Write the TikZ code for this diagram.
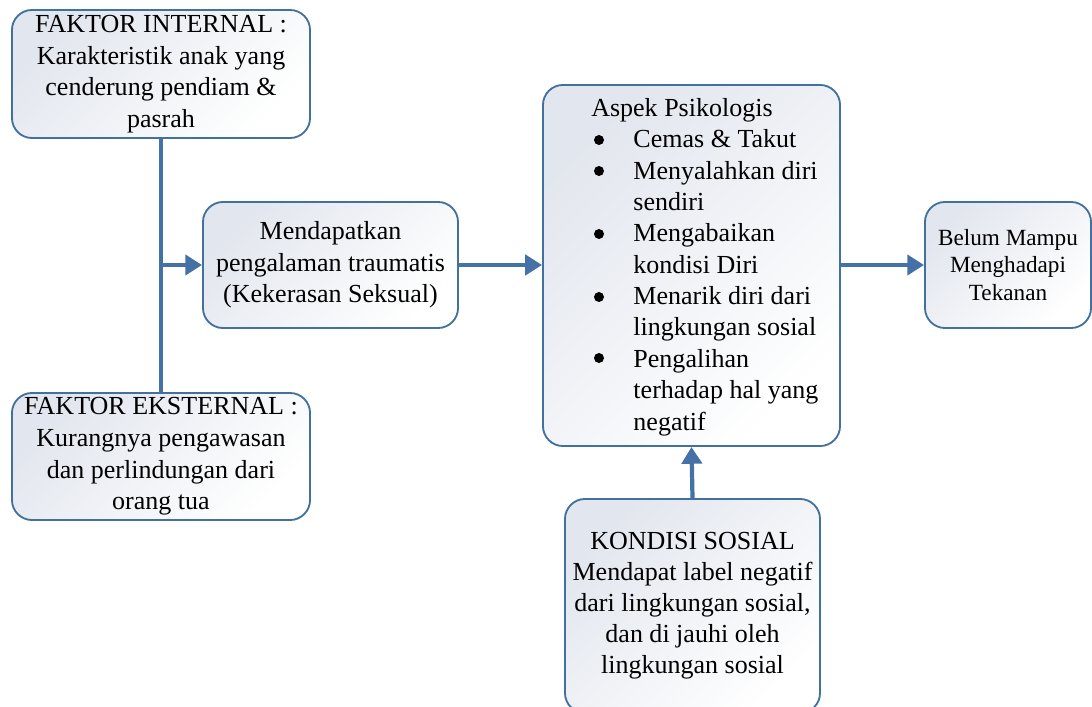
\documentclass[tikz,border=0pt]{standalone}
\usepackage{fontspec}
\setmainfont{Liberation Serif}
\usetikzlibrary{arrows.meta,positioning}

\definecolor{edgeblue}{RGB}{65,113,156}
\definecolor{arrowblue}{RGB}{68,114,166}
\definecolor{boxshade}{RGB}{226,230,238}

\tikzset{
  box/.style={draw=edgeblue,line width=1.3pt,rounded corners=0.5cm,
    top color=boxshade,bottom color=white,shading angle=45,
    align=center,inner sep=2pt,font=\fontsize{18.5}{22.5}\selectfont},
  arr/.style={draw=arrowblue,line width=3pt,-{Triangle[length=0.42cm,width=0.5cm]}},
  stem/.style={draw=arrowblue,line width=3.4pt}
}

\begin{document}
\begin{tikzpicture}[x=0.025cm,y=-0.025cm]
  \useasboundingbox (0,0) rectangle (1092,707);
  \node[box,minimum width=7.45cm,minimum height=3.2cm] (int) at (161,74)
    {FAKTOR INTERNAL :\\Karakteristik anak yang\\cenderung pendiam \&\\pasrah};
  \node[box,minimum width=7.45cm,minimum height=3.175cm] (ext) at (161,456.5)
    {FAKTOR EKSTERNAL :\\Kurangnya pengawasan\\dan perlindungan dari\\orang tua};
  \node[box,minimum width=6.375cm,minimum height=3.15cm] (trauma) at (330.5,265)
    {Mendapatkan\\pengalaman traumatis\\(Kekerasan Seksual)};
  \node[box,minimum width=7.425cm,minimum height=9.025cm] (psi) at (691.5,265.5) {};
  \node[anchor=west,inner sep=0pt,font=\fontsize{18.5}{22.3}\selectfont] (psitxt) at (591,267)
    {\begin{tabular}{@{\hspace{30pt}}l@{}}
      \multicolumn{1}{@{}l@{}}{Aspek Psikologis}\\
      Cemas \& Takut\\
      Menyalahkan diri\\
      sendiri\\
      Mengabaikan\\
      kondisi Diri\\
      Menarik diri dari\\
      lingkungan sosial\\
      Pengalihan\\
      terhadap hal yang\\
      negatif
    \end{tabular}};
  \foreach \by in {140,171,234,297,358}
    \fill (599,\by) circle (0.125cm);
  \node[box,minimum width=4.15cm,minimum height=3.15cm,font=\fontsize{16.5}{19.5}\selectfont] (belum) at (1008,265)
    {Belum Mampu\\Menghadapi\\Tekanan};
  \node[box,minimum width=6.375cm,minimum height=5.35cm,font=\fontsize{18.5}{22}\selectfont] (sosial) at (692.5,606)
    {KONDISI SOSIAL\\Mendapat label negatif\\dari lingkungan sosial,\\dan di jauhi oleh\\lingkungan sosial};

  \coordinate (jn) at (int.south |- trauma.west);
  \draw[stem] (int.south) -- (ext.north);
  \draw[arr] (jn) -- (trauma.west);
  \draw[arr] (trauma.east) -- (psi.west |- trauma.east);
  \draw[arr] (psi.east |- belum.west) -- (belum.west);
  \draw[arr] (sosial.north) -- (psi.south);
\end{tikzpicture}
\end{document}
